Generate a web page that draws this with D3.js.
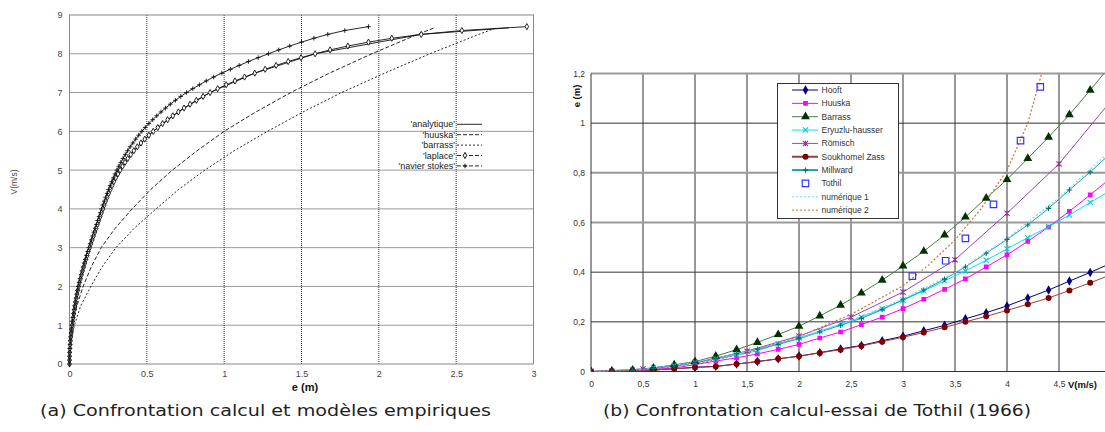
<!DOCTYPE html>
<html>
<head>
<meta charset="utf-8">
<script src="https://cdn.jsdelivr.net/npm/d3@7"></script>
<style>
  body { margin: 0; background: #fff; }
  svg { display: block; }
</style>
</head>
<body>
<div id="chart"></div>
<script>
// ---------- (a) left panel : V (m/s) against e (m) ----------
const leftXTicks = [0, 0.5, 1, 1.5, 2, 2.5, 3]
const leftYTicks = [0, 1, 2, 3, 4, 5, 6, 7, 8, 9]

// speeds of the laplace / navier stokes points
const speedsFine = [0,0.1,0.2,0.3,0.4,0.5,0.6,0.7,0.8,0.9,1,1.1,1.2,1.3,1.4,1.5,1.6,1.7,1.8,1.9,
  2,2.1,2.2,2.3,2.4,2.5,2.6,2.7,2.8,2.9,3,3.1,3.2,3.3,3.4,3.5,3.6,3.7,3.8,3.9,
  4,4.1,4.2,4.3,4.4,4.5,4.6,4.7,4.8,4.9,5,5.1,5.2,5.3,5.4,5.5,5.6,5.7,5.8,5.9,
  6,6.1,6.2,6.3,6.4,6.5,6.6,6.7,6.8,6.9,7,7.1,7.2,7.3,7.4,7.5,7.6,7.7,7.8,7.9,
  8,8.1,8.2,8.3,8.4,8.5,8.6,8.7]
const laplaceE = [0,0.0002,0.0007,0.0015,0.0027,0.0042,0.006,0.0082,0.0108,0.0138,
  0.017,0.0201,0.0235,0.0272,0.0311,0.0352,0.0395,0.044,0.0487,0.0537,
  0.0591,0.0649,0.0711,0.0777,0.0847,0.0919,0.0993,0.1069,0.1147,0.1227,
  0.1308,0.139,0.1473,0.1557,0.1642,0.1727,0.1813,0.1899,0.1986,0.2074,
  0.2163,0.2251,0.2342,0.2437,0.2537,0.2642,0.2752,0.2867,0.2992,0.3127,
  0.3272,0.3427,0.3592,0.3767,0.3957,0.4162,0.4382,0.4617,0.4867,0.5132,
  0.5412,0.5707,0.6017,0.6342,0.6682,0.7037,0.7407,0.7797,0.8207,0.8637,
  0.9087,0.958,1.013,1.07,1.132,1.198,1.265,1.336,1.414,1.497,
  1.588,1.685,1.8,1.933,2.084,2.274,2.537,2.957]
const navierE = [0,0.0002,0.0007,0.0014,0.0026,0.004,0.0058,0.0079,0.0104,0.0132,
  0.0163,0.0193,0.0226,0.0261,0.0299,0.0338,0.0379,0.0422,0.0468,0.0516,
  0.0567,0.0623,0.0683,0.0746,0.0813,0.0882,0.0953,0.1026,0.1101,0.1178,
  0.1256,0.1334,0.1414,0.1495,0.1576,0.1658,0.174,0.1823,0.1907,0.1991,
  0.2076,0.2161,0.2248,0.2337,0.2429,0.2524,0.2623,0.2726,0.2834,0.2947,
  0.3066,0.3191,0.3322,0.346,0.3606,0.376,0.3923,0.4096,0.4279,0.4473,
  0.4679,0.4898,0.5131,0.5378,0.564,0.5917,0.621,0.652,0.6848,0.7195,
  0.7562,0.797,0.84,0.884,0.932,0.985,1.04,1.097,1.157,1.22,
  1.286,1.353,1.424,1.5,1.58,1.67,1.78,1.933]

// smooth curves
const speedsCoarse = [0,0.25,0.5,1,1.5,2,2.5,3,3.5,4,4.5,5,5.5,6,6.5,7,7.5,8,8.5,8.67]
const analytiqueE = [0,0.001,0.0042,0.017,0.0352,0.0591,0.0919,0.1308,0.1727,0.2163,0.2642,0.3272,0.4162,0.5412,0.7037,0.9087,1.198,1.588,2.274,2.84]
const huuskaLeftE = [0,0.001,0.004,0.02,0.048,0.088,0.14,0.205,0.295,0.405,0.525,0.665,0.825,1.0,1.205,1.43,1.68,1.955,2.25,2.36]
const barrassLeftE = [0,0.0017,0.0071,0.032,0.072,0.138,0.21,0.3,0.418,0.56,0.705,0.875,1.065,1.28,1.51,1.76,2.037,2.33,2.646,2.76]

const leftLegend = ["'analytique'", "'huuska'", "'barrass'", "'laplace'", "'navier stokes'"]

// ---------- (b) right panel : e (m) against V (m/s) ----------
const rightXTicks = [0, 0.5, 1, 1.5, 2, 2.5, 3, 3.5, 4, 4.5]
const rightYTicks = [0, 0.2, 0.4, 0.6, 0.8, 1, 1.2]

const speeds = [0,0.2,0.4,0.6,0.8,1,1.2,1.4,1.6,1.8,2,2.2,2.4,2.6,2.8,3,3.2,3.4,3.6,3.8,4,4.2,4.4,4.6,4.8,5]
const hooft = [0,0.001,0.003,0.006,0.011,0.017,0.021,0.03,0.04,0.051,0.062,0.076,0.091,0.105,0.124,0.142,0.164,0.186,0.212,0.237,0.264,0.296,0.328,0.364,0.399,0.436]
const huuska = [0,0.001,0.004,0.009,0.014,0.028,0.042,0.055,0.071,0.089,0.109,0.135,0.159,0.189,0.219,0.253,0.291,0.331,0.373,0.421,0.47,0.524,0.582,0.645,0.711,0.78]
const barrass = [0,0.002,0.006,0.014,0.027,0.04,0.062,0.088,0.117,0.149,0.182,0.224,0.267,0.316,0.368,0.425,0.484,0.55,0.622,0.698,0.773,0.858,0.944,1.034,1.133,1.235]
const eryuzlu = [0,0.002,0.007,0.015,0.024,0.037,0.05,0.066,0.083,0.112,0.135,0.163,0.19,0.219,0.253,0.287,0.325,0.365,0.405,0.448,0.494,0.539,0.583,0.63,0.681,0.73]
const soukhomel = [0,0.001,0.003,0.006,0.011,0.016,0.02,0.03,0.04,0.051,0.061,0.075,0.088,0.103,0.12,0.138,0.157,0.178,0.2,0.222,0.246,0.271,0.296,0.326,0.357,0.39]
const millward = [0,0.001,0.005,0.012,0.022,0.035,0.052,0.072,0.09,0.109,0.132,0.159,0.186,0.214,0.249,0.289,0.328,0.372,0.421,0.476,0.532,0.59,0.657,0.731,0.803,0.88]

const speedsHalf = [0,0.5,1,1.5,2,2.5,3,3.5,4,4.5,5]
const romisch = [0,0.01,0.035,0.082,0.143,0.219,0.32,0.45,0.637,0.836,1.09]
const numerique1 = [0,0.009,0.036,0.08,0.135,0.205,0.292,0.398,0.535,0.7,0.89]

const tothilV = [3.09, 3.41, 3.6, 3.87, 4.13, 4.32]
const tothilE = [0.384, 0.446, 0.536, 0.673, 0.93, 1.146]

const numerique2V = [0,0.5,1,1.5,2,2.5,3,3.25,3.5,3.75,4,4.2,4.4]
const numerique2E = [0,0.006,0.03,0.075,0.14,0.23,0.345,0.43,0.53,0.655,0.81,1.0,1.3]

const rightLegend = ['Hooft','Huuska','Barrass','Eryuzlu-hausser','Römisch','Soukhomel Zass','Millward','Tothil','numérique 1','numérique 2']

// ---------- drawing ----------
const svg = d3.select('#chart').append('svg')
  .attr('width', 1105).attr('height', 432)
  .style('font-family', '"Liberation Sans", Arial, sans-serif')

// little stroke marks that d3.symbol has no filled version for
function mark(type, s) {
  if (type == 'plus') return `M${-s},0H${s}M0,${-s}V${s}`
  if (type == 'times') return `M${-s},${-s}L${s},${s}M${-s},${s}L${s},${-s}`
  // asterisk
  return `M${-s},${-s}L${s},${s}M${-s},${s}L${s},${-s}M0,${-s}V${s}`
}

/* ===== left panel ===== */
const xL = d3.scaleLinear().domain([0, 3]).range([69.5, 533.5])
const yL = d3.scaleLinear().domain([0, 9]).range([364, 15])
const gL = svg.append('g')

// dotted grid
gL.append('g').selectAll('line').data(leftXTicks.slice(1, -1)).enter().append('line')
  .attr('x1', d => xL(d)).attr('x2', d => xL(d)).attr('y1', yL(0)).attr('y2', yL(9))
  .attr('stroke', '#333').attr('stroke-dasharray', '1,1')
gL.append('g').selectAll('line').data(leftYTicks.slice(1, -1)).enter().append('line')
  .attr('x1', xL(0)).attr('x2', xL(3)).attr('y1', d => yL(d)).attr('y2', d => yL(d))
  .attr('stroke', '#333').attr('stroke-dasharray', '1,1')

gL.append('rect')
  .attr('x', xL(0)).attr('y', yL(9)).attr('width', xL(3) - xL(0)).attr('height', yL(0) - yL(9))
  .attr('fill', 'none').attr('stroke', '#888')

// axes (labels only)
const axL = gL.append('g').attr('transform', `translate(0,${yL(0)})`)
  .call(d3.axisBottom(xL).tickValues(leftXTicks).tickSize(0).tickPadding(7).tickFormat(d3.format('')))
const ayL = gL.append('g').attr('transform', `translate(${xL(0)},0)`)
  .call(d3.axisLeft(yL).tickValues(leftYTicks).tickSize(0).tickPadding(7))
;[axL, ayL].forEach(a => {
  a.select('.domain').remove()
  a.selectAll('text').attr('fill', '#444').style('font-size', '9px').style('font-family', '"Liberation Sans", Arial, sans-serif')
})

gL.append('text').attr('x', 305).attr('y', 391).attr('text-anchor', 'middle')
  .style('font-size', '11px').style('font-weight', 'bold').attr('fill', '#111').text('e (m)')
gL.append('text').attr('transform', 'translate(17,182) rotate(-90)').attr('text-anchor', 'middle')
  .style('font-size', '8.5px').attr('fill', '#444').text('V(m/s)')

const lineL = d3.line().x(d => xL(d[0])).y(d => yL(d[1]))
const zipL = (es, vs) => es.map((e, i) => [e, vs[i]])

const curvesL = [
  { data: zipL(analytiqueE, speedsCoarse), dash: null },
  { data: zipL(huuskaLeftE, speedsCoarse), dash: '4,2' },
  { data: zipL(barrassLeftE, speedsCoarse), dash: '2,2' },
  { data: zipL(laplaceE, speedsFine), dash: null },
  { data: zipL(navierE, speedsFine), dash: null }
]
curvesL.forEach(c => {
  gL.append('path').datum(c.data).attr('d', lineL)
    .attr('fill', 'none').attr('stroke', '#111').attr('stroke-width', 0.9)
    .attr('stroke-dasharray', c.dash)
})

// laplace diamonds
gL.append('g').selectAll('path').data(zipL(laplaceE, speedsFine)).enter().append('path')
  .attr('d', d3.symbol(d3.symbolDiamond, 11))
  .attr('transform', d => `translate(${xL(d[0])},${yL(d[1])})`)
  .attr('fill', '#fff').attr('stroke', '#111').attr('stroke-width', 0.9)
// navier stokes crosses
gL.append('g').selectAll('path').data(zipL(navierE, speedsFine)).enter().append('path')
  .attr('d', mark('plus', 2.3))
  .attr('transform', d => `translate(${xL(d[0])},${yL(d[1])})`)
  .attr('stroke', '#111').attr('stroke-width', 0.9)

// legend
const legL = gL.append('g')
leftLegend.forEach((name, i) => {
  const y = 124.3 + i * 10.4
  legL.append('text').attr('x', 455).attr('y', y + 3).attr('text-anchor', 'end')
    .style('font-size', '9px').attr('fill', '#222').text(name)
  legL.append('line').attr('x1', 457).attr('x2', 482).attr('y1', y).attr('y2', y)
    .attr('stroke', '#111').attr('stroke-width', 0.9)
    .attr('stroke-dasharray', i == 0 ? null : (i == 2 ? '2,2' : '4,2'))
  if (i == 3) legL.append('path').attr('d', d3.symbol(d3.symbolDiamond, 11))
    .attr('transform', `translate(465,${y})`).attr('fill', '#fff').attr('stroke', '#111')
  if (i == 4) legL.append('path').attr('d', mark('plus', 2.3))
    .attr('transform', `translate(465,${y})`).attr('stroke', '#111')
})

/* ===== right panel ===== */
const xR = d3.scaleLinear().domain([0, 4.5]).range([591, 1059])
const yR = d3.scaleLinear().domain([0, 1.2]).range([371.5, 73.5])
const gR = svg.append('g')
const rightEdge = 1105

svg.append('clipPath').attr('id', 'clipR').append('rect')
  .attr('x', xR(0)).attr('y', yR(1.2)).attr('width', rightEdge - xR(0)).attr('height', yR(0) - yR(1.2))

const darkV = [1, 2, 3, 4]
const darkH = [0, 0.2, 0.4, 1]
gR.append('g').selectAll('line').data(rightXTicks.slice(1)).enter().append('line')
  .attr('x1', d => xR(d)).attr('x2', d => xR(d)).attr('y1', yR(0)).attr('y2', yR(1.2))
  .attr('stroke', d => darkV.includes(d) ? '#333' : '#999')
  .attr('stroke-width', d => darkV.includes(d) ? 1 : 2)
gR.append('g').selectAll('line').data(rightYTicks).enter().append('line')
  .attr('x1', xR(0)).attr('x2', rightEdge).attr('y1', d => yR(d)).attr('y2', d => yR(d))
  .attr('stroke', d => darkH.includes(d) ? '#333' : '#999')
  .attr('stroke-width', d => darkH.includes(d) ? 1 : 2)
gR.append('line').attr('x1', xR(0)).attr('x2', xR(0)).attr('y1', yR(0)).attr('y2', yR(1.2))
  .attr('stroke', '#333')

const fmtComma = d => String(d).replace('.', ',')
const axR = gR.append('g').attr('transform', `translate(0,${yR(0)})`)
  .call(d3.axisBottom(xR).tickValues(rightXTicks).tickSize(0).tickPadding(9).tickFormat(fmtComma))
const ayR = gR.append('g').attr('transform', `translate(${xR(0)},0)`)
  .call(d3.axisLeft(yR).tickValues(rightYTicks).tickSize(0).tickPadding(6).tickFormat(fmtComma))
;[axR, ayR].forEach(a => {
  a.select('.domain').remove()
  a.selectAll('text').attr('fill', '#333').style('font-size', '8.5px').style('font-family', '"Liberation Sans", Arial, sans-serif')
})
gR.append('text').attr('x', 1068).attr('y', 388).style('font-size', '9.5px').style('font-weight', 'bold')
  .attr('fill', '#111').text('V(m/s)')
gR.append('text').attr('transform', 'translate(580,96) rotate(-90)').attr('text-anchor', 'middle')
  .style('font-size', '9.5px').style('font-weight', 'bold').attr('fill', '#111').text('e (m)')

const lineR = d3.line().x(d => xR(d[0])).y(d => yR(d[1]))
const zipR = (vs, es) => vs.map((v, i) => [v, es[i]])
const plot = gR.append('g').attr('clip-path', 'url(#clipR)')

const seriesR = [
  { name: 'Hooft', data: zipR(speeds, hooft), line: '#000080', color: '#000080', mk: 'diamond' },
  { name: 'Huuska', data: zipR(speeds, huuska), line: '#ff00ff', color: '#ff00ff', mk: 'square' },
  { name: 'Barrass', data: zipR(speeds, barrass), line: '#4d7a4d', color: '#003300', mk: 'triangle' },
  { name: 'Eryuzlu-hausser', data: zipR(speeds, eryuzlu), line: '#00e5ee', color: '#00cccc', mk: 'times' },
  { name: 'Römisch', data: zipR(speedsHalf, romisch), line: '#a040c0', color: '#993399', mk: 'star' },
  { name: 'Soukhomel Zass', data: zipR(speeds, soukhomel), line: '#a03c3c', color: '#800000', mk: 'circle' },
  { name: 'Millward', data: zipR(speeds, millward), line: '#20a0a0', color: '#007070', mk: 'plus' },
  { name: 'Tothil', data: zipR(tothilV, tothilE), line: null, color: '#3333ff', mk: 'open' },
  { name: 'numérique 1', data: zipR(speedsHalf, numerique1), line: '#7fd4ff', color: null, mk: null, dash: '2,2' },
  { name: 'numérique 2', data: zipR(numerique2V, numerique2E), line: '#c87040', color: null, mk: null, dash: '2,2' }
]

function drawMark(sel, mk, color) {
  if (mk == 'diamond') sel.attr('d', d3.symbol(d3.symbolDiamond, 26)).attr('fill', color)
  else if (mk == 'square') sel.attr('d', d3.symbol(d3.symbolSquare, 22)).attr('fill', color)
  else if (mk == 'triangle') sel.attr('d', d3.symbol(d3.symbolTriangle, 34)).attr('fill', color)
  else if (mk == 'circle') sel.attr('d', d3.symbol(d3.symbolCircle, 28)).attr('fill', color)
  else if (mk == 'open') sel.attr('d', d3.symbol(d3.symbolSquare, 42)).attr('fill', 'none').attr('stroke', color).attr('stroke-width', 1.2)
  else sel.attr('d', mark(mk, 2.6)).attr('fill', 'none').attr('stroke', color).attr('stroke-width', 1.1)
}

seriesR.forEach(s => {
  if (s.line) plot.append('path').datum(s.data).attr('d', lineR)
    .attr('fill', 'none').attr('stroke', s.line).attr('stroke-width', s.dash ? 1.2 : 1)
    .attr('stroke-dasharray', s.dash || null)
})
seriesR.forEach(s => {
  if (!s.mk) return
  plot.append('g').selectAll('path').data(s.data).enter().append('path')
    .attr('transform', d => `translate(${xR(d[0])},${yR(d[1])})`)
    .call(sel => drawMark(sel, s.mk, s.color))
})

// legend box
const legR = gR.append('g')
legR.append('rect').attr('x', 777.5).attr('y', 83.5).attr('width', 121).attr('height', 135)
  .attr('fill', '#fff').attr('stroke', '#333')
seriesR.forEach((s, i) => {
  const y = 90 + i * 13.35
  if (s.line) legR.append('line').attr('x1', 792).attr('x2', 818).attr('y1', y).attr('y2', y)
    .attr('stroke', s.line).attr('stroke-width', (s.name == 'Soukhomel Zass' || s.name == 'Millward') ? 2 : 1)
    .attr('stroke-dasharray', s.dash || null)
  if (s.mk) legR.append('path').attr('transform', `translate(805.5,${y})`)
    .call(sel => drawMark(sel, s.mk, s.color))
  legR.append('text').attr('x', 821.5).attr('y', y + 3).style('font-size', '8.5px')
    .attr('fill', '#333').text(rightLegend[i])
})

/* ===== captions ===== */
svg.append('text').attr('x', 40).attr('y', 416).attr('textLength', 451).attr('lengthAdjust', 'spacingAndGlyphs')
  .style('font-family', '"DejaVu Sans", sans-serif').style('font-size', '16.5px').attr('fill', '#222')
  .text('(a) Confrontation calcul et modèles empiriques')
svg.append('text').attr('x', 603).attr('y', 416).attr('textLength', 428).attr('lengthAdjust', 'spacingAndGlyphs')
  .style('font-family', '"DejaVu Sans", sans-serif').style('font-size', '16.5px').attr('fill', '#222')
  .text('(b) Confrontation calcul-essai de Tothil (1966)')
</script>
</body>
</html>
